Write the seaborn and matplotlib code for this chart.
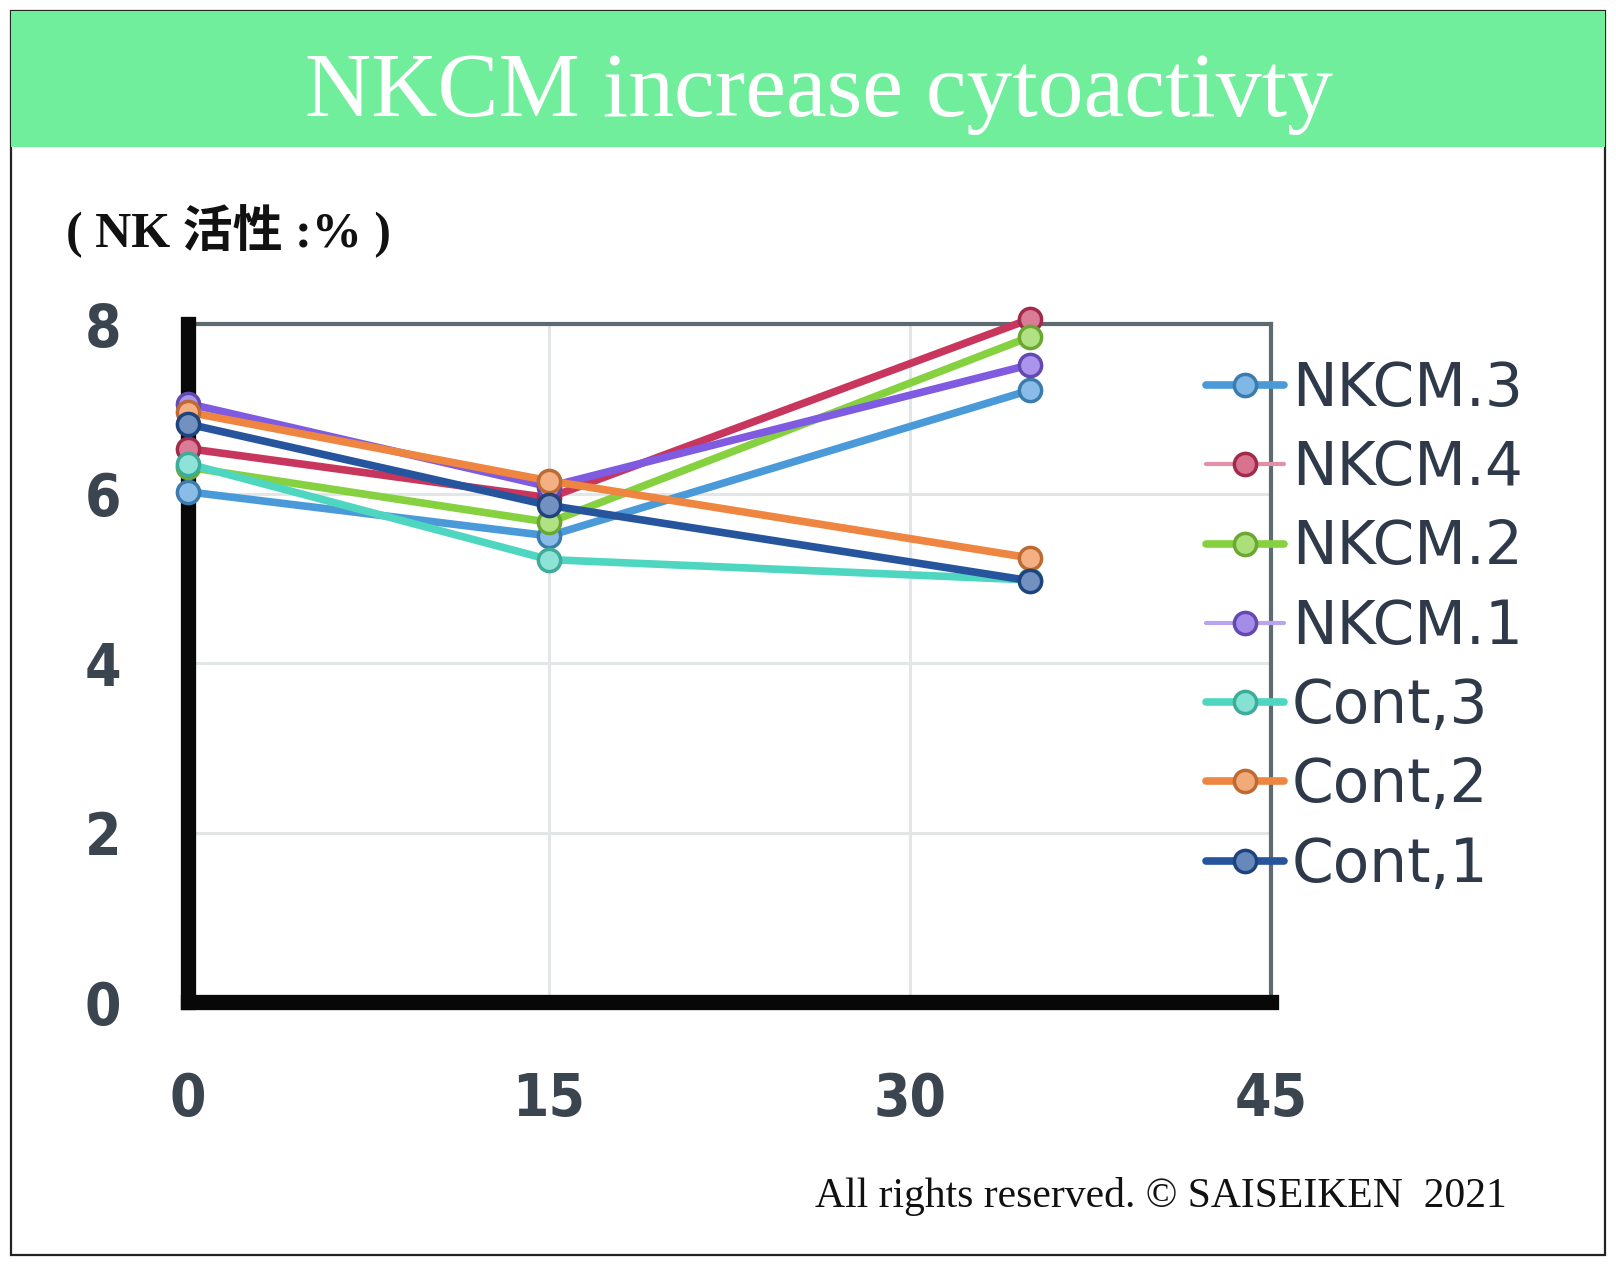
import matplotlib
matplotlib.use("Agg")
import matplotlib.pyplot as plt
import seaborn as sns
import pandas as pd
import numpy as np
from matplotlib.lines import Line2D
from matplotlib.patches import Rectangle
import matplotlib.colors as mcolors
from matplotlib.font_manager import FontProperties

# ---------------- data ----------------
days = [0, 15, 35]
series_names = ["NKCM.3", "NKCM.4", "NKCM.2", "NKCM.1", "Cont,3", "Cont,2", "Cont,1"]
nkcm3 = [6.02, 5.50, 7.22]
nkcm4 = [6.53, 5.95, 8.06]
nkcm2 = [6.31, 5.66, 7.85]
nkcm1 = [7.06, 6.08, 7.52]
cont3 = [6.35, 5.22, 4.98]
cont2 = [6.96, 6.15, 5.24]
cont1 = [6.82, 5.86, 4.97]
series_values = [nkcm3, nkcm4, nkcm2, nkcm1, cont3, cont2, cont1]
colors = ["#4A9ADA", "#C8365E", "#86D13F", "#7E5BE0", "#4FD6C0", "#EE8540", "#26559E"]
x_ticks = [0, 15, 30, 45]
y_ticks = [0, 2, 4, 6, 8]
title = "NKCM increase cytoactivty"
ylabel = "( NK 活性 :% )"
footer = "All rights reserved. © SAISEIKEN  2021"

rows = []
for name, vals in zip(series_names, series_values):
    for d, v in zip(days, vals):
        rows.append({"day": d, "value": v, "series": name})
df = pd.DataFrame(rows)
palette = dict(zip(series_names, colors))

# ---------------- figure ----------------
sns.set_style("white")
W, H = 1616, 1266
fig = plt.figure(figsize=(W / 100, H / 100), dpi=100)

def fx(px):
    return px / W

def fy(py):
    return 1 - py / H

# outer border and green band
fig.patches.append(Rectangle((fx(11), fy(1255)), fx(1605) - fx(11), fy(11) - fy(1255),
                             transform=fig.transFigure, fill=False, edgecolor="#222222",
                             linewidth=1.6, zorder=0))
fig.patches.append(Rectangle((fx(11), fy(147)), fx(1605) - fx(11), fy(11) - fy(147),
                             transform=fig.transFigure, facecolor="#70EE9C",
                             edgecolor="none", zorder=1))
fig.text(fx(819), fy(94), title, ha="center", va="center", color="white",
         fontsize=66, family=["Liberation Serif", "DejaVu Serif"], zorder=3)

fig.text(fx(66), fy(231), ylabel, ha="left", va="center", color="#111111",
         fontsize=36, fontweight="bold",
         family=["Liberation Serif", "Noto Sans CJK JP", "DejaVu Sans"])

fig.text(fx(1507), fy(1196), footer, ha="right", va="center", color="#111111",
         fontsize=30, family=["Liberation Serif", "DejaVu Serif"])

# axes
ax = fig.add_axes([fx(188), fy(1002), fx(1271) - fx(188), fy(324) - fy(1002)])
sns.lineplot(data=df, x="day", y="value", hue="series", hue_order=series_names,
             palette=palette, marker="o", markersize=16, linewidth=5.5,
             sort=False, legend=False, ax=ax)

for ln in ax.lines:
    c = ln.get_color()
    rgb = np.array(mcolors.to_rgb(c))
    ln.set_markeredgecolor(tuple(rgb * 0.8))
    ln.set_markerfacecolor(tuple(rgb + (1 - rgb) * 0.35))
    ln.set_markeredgewidth(2.5)
    ln.set_clip_on(False)
    ln.set_zorder(5)

ax.set_xlim(0, 45)
ax.set_ylim(0, 8)
ax.set_xticks(x_ticks)
ax.set_yticks(y_ticks)
ax.set_xticklabels([str(t) for t in x_ticks])
ax.set_yticklabels([str(t) for t in y_ticks])
ax.set_xlabel("")
ax.set_ylabel("")
ax.grid(True, color="#E2E6E6", linewidth=2.2)
ax.set_axisbelow(True)

tick_fp = FontProperties(family=["DejaVu Sans"], weight="bold", stretch="condensed", size=42)
for lab in ax.get_xticklabels() + ax.get_yticklabels():
    lab.set_fontproperties(tick_fp)
    lab.set_color("#3A4550")
ax.tick_params(axis="both", length=0)
ax.tick_params(axis="y", pad=48)
ax.tick_params(axis="x", pad=50)

for side in ["top", "right"]:
    ax.spines[side].set_visible(True)
    ax.spines[side].set_color("#5D6A70")
    ax.spines[side].set_linewidth(3)
for side in ["left", "bottom"]:
    ax.spines[side].set_visible(True)
    ax.spines[side].set_color("#080808")
    ax.spines[side].set_linewidth(11)
    ax.spines[side].set_zorder(4)

# legend
handles = []
for name, c in zip(series_names, colors):
    rgb = np.array(mcolors.to_rgb(c))
    thin = name in ("NKCM.4", "NKCM.1")
    lc = tuple(rgb + (1 - rgb) * 0.45) if thin else c
    handles.append(Line2D([0], [0], color=lc, linewidth=3 if thin else 5.5,
                          marker="o", markersize=16,
                          markerfacecolor=tuple(rgb + (1 - rgb) * 0.3),
                          markeredgecolor=tuple(rgb * 0.8), markeredgewidth=2.5))
fig.legend(handles, series_names, loc="upper left",
           bbox_to_anchor=(fx(1176), fy(330)), frameon=False, borderpad=0,
           handlelength=1.3, handletextpad=0.14, labelspacing=0.34,
           prop=dict(family=["DejaVu Sans"], size=43), labelcolor="#2E3A4A")

fig.savefig("out.png", dpi=100)
